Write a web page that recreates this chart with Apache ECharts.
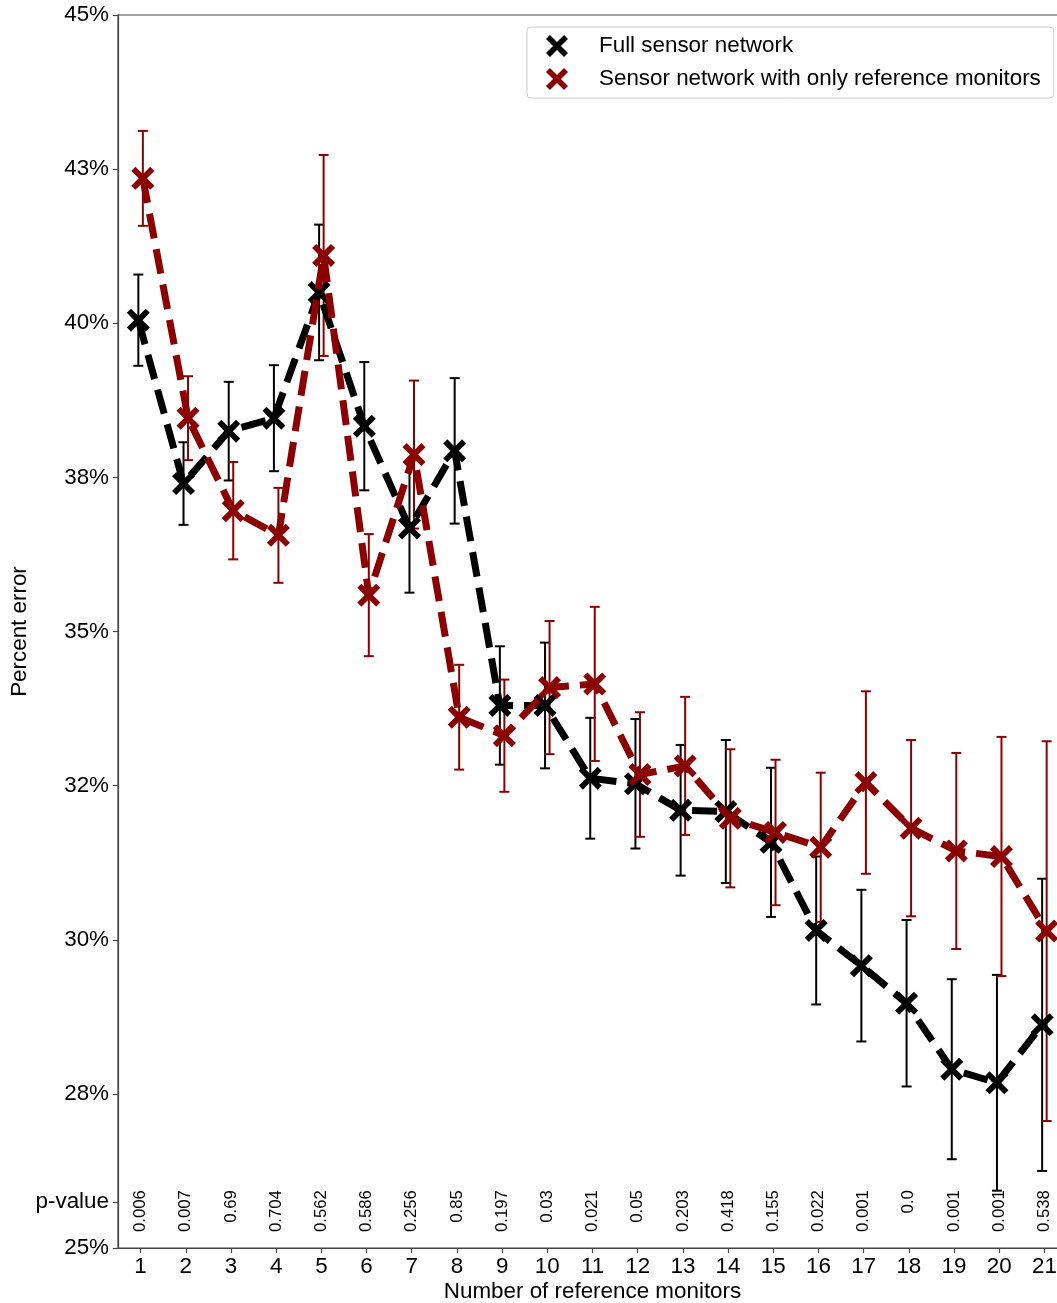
<!DOCTYPE html>
<html>
<head>
<meta charset="utf-8">
<title>Percent error by number of reference monitors</title>
<script src="https://cdn.jsdelivr.net/npm/echarts@6/dist/echarts.min.js"></script>
<style>
  html, body { margin: 0; padding: 0; background: #fff; overflow: hidden; }
  /* the plot frame runs slightly past the right edge of the page */
  #chart { width: 1080px; height: 1303px; }
</style>
</head>
<body>
<div id="chart"></div>
<script>
// Number of reference monitors (x categories)
const monitors = [1, 2, 3, 4, 5, 6, 7, 8, 9, 10, 11, 12, 13, 14, 15, 16, 17, 18, 19, 20, 21];

// Mean percent error and error-bar half widths, full sensor network
const fullNetwork = [40.05, 37.40, 38.25, 38.46, 40.50, 38.33, 36.68, 37.93, 33.80, 33.80, 32.62,
                     32.53, 32.10, 32.08, 31.58, 30.15, 29.58, 28.97, 27.90, 27.68, 28.62];
const fullNetworkErr = [0.74, 0.67, 0.80, 0.86, 1.10, 1.04, 1.05, 1.18, 0.96, 1.02, 0.98,
                        1.05, 1.06, 1.16, 1.21, 1.20, 1.23, 1.35, 1.46, 1.75, 2.37];

// Mean percent error and error-bar half widths, reference monitors only
const refOnly = [42.35, 38.46, 36.96, 36.56, 41.10, 35.59, 37.87, 33.61, 33.31, 34.09, 34.15,
                 32.68, 32.82, 31.97, 31.74, 31.50, 32.55, 31.81, 31.44, 31.35, 30.14];
const refOnlyErr = [0.77, 0.68, 0.79, 0.77, 1.63, 0.99, 1.20, 0.85, 0.91, 1.08, 1.25,
                    1.01, 1.12, 1.12, 1.18, 1.21, 1.48, 1.43, 1.59, 1.94, 3.08];

// p-value of the difference between the two networks at each monitor count
const pValues = ['0.006', '0.007', '0.69', '0.704', '0.562', '0.586', '0.256', '0.85', '0.197', '0.03',
                 '0.021', '0.05', '0.203', '0.418', '0.155', '0.022', '0.001', '0.0', '0.001', '0.001', '0.538'];

// Y axis ticks and their labels
const yTickValues = [25, 25.75, 27.5, 30, 32.5, 35, 37.5, 40, 42.5, 45];
const yTickLabels = ['25%', 'p-value', '28%', '30%', '32%', '35%', '38%', '40%', '43%', '45%'];

const seriesNames = ['Full sensor network', 'Sensor network with only reference monitors'];
const seriesColors = ['#000000', '#8b0000'];

const FONT = "'Liberation Sans', Arial, Helvetica, sans-serif";
const FS = 22.4;
const X_ICON = 'path://M0,3.6 L3.6,0 L10,6.4 L16.4,0 L20,3.6 L13.6,10 L20,16.4 L16.4,20 L10,13.6 L3.6,20 L0,16.4 L6.4,10 Z';
const OFFSET = 0.05;       // small horizontal dodge between the two series
const P_LABEL_TOP = 25.94; // where the rotated p-value labels end (axis units)

function points(values, shift) {
  return monitors.map((m, i) => [m + shift, values[i]]);
}
function errorRows(values, errs, shift) {
  return monitors.map((m, i) => [m + shift, values[i] - errs[i], values[i] + errs[i]]);
}

function errorBarSeries(name, values, errs, shift, color, width) {
  return {
    name: name,
    type: 'custom',
    data: errorRows(values, errs, shift),
    z: 2,
    silent: true,
    renderItem: function (params, api) {
      const x = api.value(0);
      const lo = api.coord([x, api.value(1)]);
      const hi = api.coord([x, api.value(2)]);
      const cap = 5;
      const style = { stroke: color, lineWidth: width };
      return {
        type: 'group',
        children: [
          { type: 'line', shape: { x1: lo[0], y1: lo[1], x2: hi[0], y2: hi[1] }, style: style },
          { type: 'line', shape: { x1: lo[0] - cap, y1: lo[1], x2: lo[0] + cap, y2: lo[1] }, style: style },
          { type: 'line', shape: { x1: hi[0] - cap, y1: hi[1], x2: hi[0] + cap, y2: hi[1] }, style: style }
        ]
      };
    }
  };
}

function lineSeries(name, values, shift, color, z) {
  return {
    name: name,
    type: 'line',
    data: points(values, shift),
    z: z,
    symbol: X_ICON,
    symbolSize: 23,
    itemStyle: { color: color },
    lineStyle: { color: color, width: 7, type: [25, 11] },
    emphasis: { disabled: true }
  };
}

const chart = echarts.init(document.getElementById('chart'), null, { renderer: 'canvas' });

chart.setOption({
  animation: false,
  backgroundColor: '#ffffff',
  grid: {
    left: 118, top: 15, width: 949, height: 1233,
    outerBoundsMode: 'none',
    containLabel: false,
    show: true, borderColor: '#444', borderWidth: 1.2, backgroundColor: 'transparent'
  },
  legend: {
    left: 527, top: 27,
    orient: 'vertical',
    padding: [8, 13, 8, 19],
    itemWidth: 24, itemHeight: 22, itemGap: 11,
    backgroundColor: '#fff',
    borderColor: '#cccccc', borderWidth: 1, borderRadius: 4,
    selectedMode: false,
    textStyle: { fontFamily: FONT, fontSize: FS, color: '#000', padding: [0, 0, 0, 25] },
    data: [
      { name: seriesNames[0], icon: X_ICON },
      { name: seriesNames[1], icon: X_ICON }
    ]
  },
  xAxis: {
    type: 'value',
    min: 0.5, max: 21.5,
    name: 'Number of reference monitors',
    nameLocation: 'middle',
    nameGap: 33,
    nameMoveOverlap: false,
    nameTextStyle: { fontFamily: FONT, fontSize: FS, color: '#000' },
    axisLine: { show: true, onZero: false, lineStyle: { color: '#444', width: 1.2 } },
    axisTick: { show: true, length: 5, lineStyle: { color: '#444', width: 1.2 }, customValues: monitors },
    axisLabel: { fontFamily: FONT, fontSize: FS, color: '#000', margin: 8, customValues: monitors },
    splitLine: { show: false }
  },
  yAxis: {
    type: 'value',
    min: 25, max: 45,
    name: 'Percent error',
    nameLocation: 'middle',
    nameGap: 87,
    nameMoveOverlap: false,
    nameTextStyle: { fontFamily: FONT, fontSize: FS, color: '#000' },
    axisLine: { show: true, onZero: false, lineStyle: { color: '#444', width: 1.2 } },
    axisTick: { show: true, length: 5, lineStyle: { color: '#444', width: 1.2 }, customValues: yTickValues },
    axisLabel: {
      fontFamily: FONT, fontSize: FS, color: '#000', margin: 9,
      customValues: yTickValues,
      formatter: function (v) {
        const i = yTickValues.findIndex(t => Math.abs(t - v) < 1e-6);
        return i >= 0 ? yTickLabels[i] : '';
      }
    },
    splitLine: { show: false }
  },
  series: [
    errorBarSeries('fullErr', fullNetwork, fullNetworkErr, -OFFSET, seriesColors[0], 2),
    lineSeries(seriesNames[0], fullNetwork, -OFFSET, seriesColors[0], 3),
    errorBarSeries('refErr', refOnly, refOnlyErr, OFFSET, seriesColors[1], 2),
    lineSeries(seriesNames[1], refOnly, OFFSET, seriesColors[1], 4),
    {
      name: 'pValues',
      type: 'custom',
      silent: true,
      data: monitors.map((m, i) => [m, P_LABEL_TOP, pValues[i]]),
      renderItem: function (params, api) {
        const p = api.coord([api.value(0), api.value(1)]);
        return {
          type: 'text',
          x: p[0], y: p[1],
          rotation: Math.PI / 2,
          style: {
            text: pValues[params.dataIndex],
            align: 'right', verticalAlign: 'middle',
            fontFamily: FONT, fontSize: 16.8, fill: '#000'
          }
        };
      }
    }
  ]
});
</script>
</body>
</html>
